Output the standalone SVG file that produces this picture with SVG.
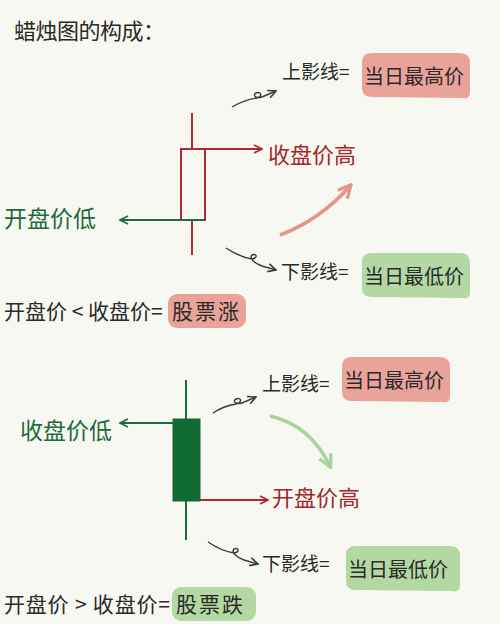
<svg xmlns="http://www.w3.org/2000/svg" width="500" height="624" viewBox="0 0 500 624">
<defs>
<marker id="ah" viewBox="0 0 10 10" refX="9" refY="5" markerWidth="10" markerHeight="10" markerUnits="userSpaceOnUse" orient="auto"><path d="M1,1 L9,5 L1,9" fill="none" stroke="context-stroke" stroke-width="1.6"/></marker>
<marker id="ahb" viewBox="0 0 10 10" refX="8" refY="5" markerWidth="16" markerHeight="16" markerUnits="userSpaceOnUse" orient="auto"><path d="M1,1 L9,5 L1,9" fill="none" stroke="context-stroke" stroke-width="2"/></marker>
</defs>
<style>
text{font-family:"Noto Sans CJK SC","Noto Sans",sans-serif;}
.blk{fill:#2a2a2a;}
.red{fill:#a3262a;}
.grn{fill:#1f6b3a;}
.lbl{font-size:19px;}
.big{font-size:20px;}
.rule{font-size:21px;}
.pink{fill:#eaa39b;}
.lg{fill:#b3d8a4;}
.wk{stroke-width:2;fill:none;}
.sq{stroke:#3a3a3a;stroke-width:1.4;fill:none;}
</style>
<rect width="500" height="624" fill="#f8f8f2"/>
<g id="title"><text x="14" y="39" class="blk" font-size="22" letter-spacing="-0.5">蜡烛图的构成：</text></g>

<g id="candle-up">
<line x1="192" y1="113" x2="192" y2="255" stroke="#b02a30" stroke-width="2"/>
<rect x="181" y="149" width="24" height="71" fill="#f8f8f2" stroke="#b02a30" stroke-width="2"/>
</g>
<g id="label-close-high"><text x="268" y="163" class="red" font-size="22">收盘价高</text></g>
<g id="label-open-low"><text x="4" y="227" class="grn" font-size="23">开盘价低</text></g>
<g id="upper-shadow-1">
<text x="282" y="79" class="blk lbl">上影线=</text>
<path d="M362,62 Q362,53 372,53 L460,53 Q470,53 470,63 L470,92 Q470,100 462,98 L372,97 Q362,97 362,88 Z" class="pink"/>
<text x="364" y="84" class="blk big">当日最高价</text>
</g>
<g id="lower-shadow-1">
<text x="281" y="279" class="blk lbl">下影线=</text>
<path d="M362,262 Q362,253 372,253 L460,253 Q470,253 470,263 L470,292 Q470,300 462,298 L372,297 Q362,297 362,288 Z" class="lg"/>
<text x="364" y="284" class="blk big">当日最低价</text>
</g>
<g id="rule-rise">
<text x="4" y="319" class="blk rule">开盘价 &lt; 收盘价=</text>
<rect x="168" y="294" width="78" height="34" rx="9" class="pink"/>
<text x="172" y="319" class="blk rule" letter-spacing="2">股票涨</text>
</g>

<g id="candle-down">
<line x1="186" y1="380" x2="186" y2="540" stroke="#1e6b33" stroke-width="2"/>
<rect x="173" y="419" width="27" height="82" fill="#0f6b32" stroke="#0f6b32" stroke-width="1"/>
</g>
<g id="label-close-low"><text x="20" y="439" class="grn" font-size="23">收盘价低</text></g>
<g id="label-open-high"><text x="272" y="506" class="red" font-size="22">开盘价高</text></g>
<g id="upper-shadow-2">
<text x="262" y="391" class="blk lbl">上影线=</text>
<path d="M342,366 Q342,357 352,357 L440,357 Q450,357 450,367 L450,396 Q450,404 442,402 L352,401 Q342,401 342,392 Z" class="pink"/>
<text x="344" y="388" class="blk big">当日最高价</text>
</g>
<g id="lower-shadow-2">
<text x="262" y="571" class="blk lbl">下影线=</text>
<path d="M346,555 Q346,546 356,546 L450,546 Q460,546 460,556 L460,585 Q460,593 452,591 L356,590 Q346,590 346,581 Z" class="lg"/>
<text x="348" y="577" class="blk big">当日最低价</text>
</g>
<g id="rule-fall">
<text x="4" y="612" class="blk rule" letter-spacing="0.8">开盘价 &gt; 收盘价=</text>
<rect x="172" y="587" width="84" height="34" rx="9" class="lg"/>
<text x="176" y="612" class="blk rule" letter-spacing="2">股票跌</text>
</g>

<g id="connectors">
<path d="M205,149 L262,149" stroke="#b02a30" class="wk" stroke-width="1.6" marker-end="url(#ah)"/>
<path d="M205,220 L120,220" stroke="#1f6b3a" class="wk" stroke-width="1.6" marker-end="url(#ah)"/>
<path d="M280,235 Q320,220 350,186" stroke="#e8948c" stroke-width="3.5" fill="none" marker-end="url(#ahb)"/>
<path d="M232,107 C242,101 250,99 257,98 C263,96 261,91 256,93 C252,95 256,99 262,97 L276,91" class="sq" marker-end="url(#ah)"/>
<path d="M226,248 C238,256 246,258 252,259 C258,258 257,253 252,255 C249,258 254,263 262,266 L276,270" class="sq" marker-end="url(#ah)"/>
<path d="M173,423 L120,423" stroke="#1f6b3a" class="wk" stroke-width="1.6" marker-end="url(#ah)"/>
<path d="M200,500 L268,500" stroke="#b02a30" class="wk" stroke-width="1.6" marker-end="url(#ah)"/>
<path d="M270,416 Q310,425 330,466" stroke="#a9d49a" stroke-width="3.5" fill="none" marker-end="url(#ahb)"/>
<path d="M213,413 C222,407 230,405 236,404 C243,402 241,397 236,399 C232,401 236,405 242,403 L256,397" class="sq" marker-end="url(#ah)"/>
<path d="M208,542 C220,550 228,552 234,553 C240,552 239,547 234,549 C231,552 236,557 244,560 L258,564" class="sq" marker-end="url(#ah)"/>
</g>
</svg>
